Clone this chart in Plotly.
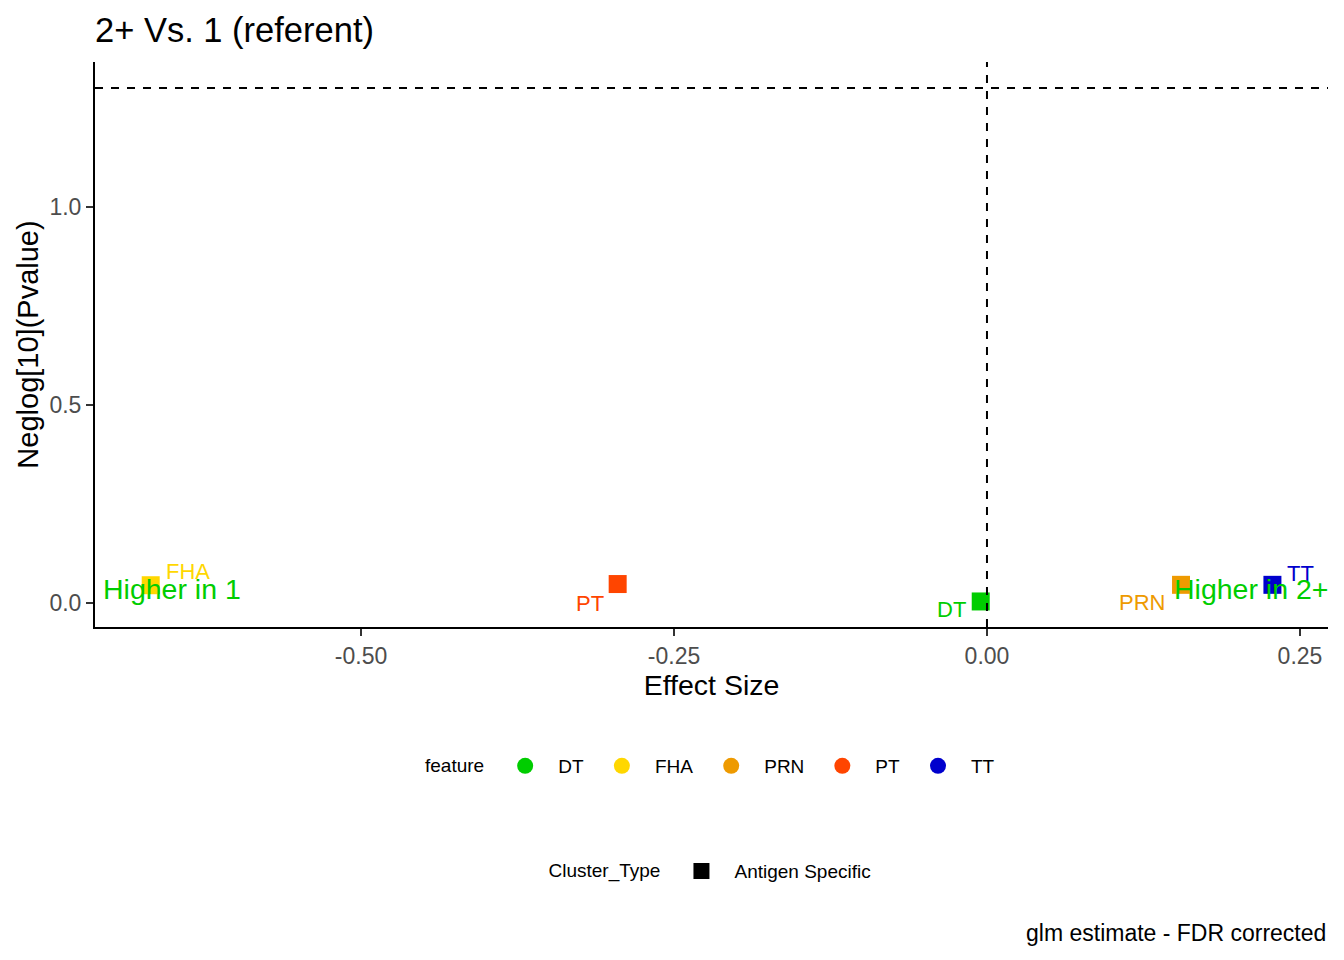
import plotly.graph_objects as go

# glm estimate per antigen feature (2+ vs 1)
features = ["DT", "FHA", "PRN", "PT", "TT"]
effect_size = [-0.005, -0.668, 0.155, -0.295, 0.228]
neglog_p = [0.004, 0.045, 0.046, 0.048, 0.046]
cluster_type = ["Antigen Specific"] * 5

feature_colors = {"DT": "#00CD00", "FHA": "#FFD700", "PRN": "#EE9A00",
                  "PT": "#FF4500", "TT": "#0000CD"}
# pixel nudges for repelled labels (x, y)
label_nudge = {"DT": (-29, -8), "FHA": (37, 14), "PRN": (-39, -18),
               "PT": (-28, -19), "TT": (28, 11)}

sig_line = 1.30103  # -log10(0.05)
x_range = [-0.7125, 0.2724]
y_range = [-0.0605, 1.3664]
x_ticks = [-0.50, -0.25, 0.00, 0.25]
x_ticktext = ["-0.50", "-0.25", "0.00", "0.25"]
y_ticks = [0.0, 0.5, 1.0]
y_ticktext = ["0.0", "0.5", "1.0"]

FONT = "Liberation Sans, Arial, sans-serif"

fig = go.Figure()

# the actual points (squares = Antigen Specific)
for f, x, y in zip(features, effect_size, neglog_p):
    fig.add_trace(go.Scatter(x=[x], y=[y], mode="markers",
                             marker=dict(symbol="square", size=18, color=feature_colors[f]),
                             showlegend=False, hoverinfo="text", text=[f]))

# legend entries: feature (circles)
for f in features:
    fig.add_trace(go.Scatter(x=[None], y=[None], mode="markers", name=f,
                             marker=dict(symbol="circle", size=17, color=feature_colors[f]),
                             legend="legend"))
# legend entries: Cluster_Type (square)
fig.add_trace(go.Scatter(x=[None], y=[None], mode="markers", name=cluster_type[0],
                         marker=dict(symbol="square", size=17, color="black"),
                         legend="legend2"))

# dashed reference lines
fig.add_hline(y=sig_line, line=dict(color="black", width=2, dash="8px,8px"))
fig.add_vline(x=0, line=dict(color="black", width=2, dash="8px,8px"))

# point labels
for f, x, y in zip(features, effect_size, neglog_p):
    dx, dy = label_nudge[f]
    fig.add_annotation(x=x, y=y, text=f, showarrow=False, xshift=dx, yshift=dy,
                       font=dict(family=FONT, size=22, color=feature_colors[f]))

# direction annotations
fig.add_annotation(x=-0.708, y=0.035, text="Higher in 1", showarrow=False,
                   xanchor="left", yanchor="middle",
                   font=dict(family=FONT, size=28.5, color="#00CD00"))
fig.add_annotation(xref="paper", x=1, y=0.035, text="Higher in 2+", showarrow=False,
                   xanchor="right", yanchor="middle", xshift=2,
                   font=dict(family=FONT, size=28.5, color="#00CD00"))

# caption
fig.add_annotation(xref="paper", yref="paper", x=1, y=-0.542, text="glm estimate - FDR corrected",
                   showarrow=False, xanchor="right", yanchor="middle",
                   font=dict(family=FONT, size=23, color="black"))

axis_common = dict(showgrid=False, zeroline=False, showline=True, linecolor="black", linewidth=2,
                   ticks="outside", ticklen=7, tickwidth=2, tickcolor="#333333",
                   tickfont=dict(family=FONT, size=23, color="#4D4D4D"))

# page body has an 8px margin, so the figure is 8px smaller and margins shifted
fig.update_layout(
    width=1336, height=952,
    margin=dict(l=87, r=16, t=54, b=333),
    paper_bgcolor="white", plot_bgcolor="white",
    font=dict(family=FONT, color="black"),
    title=dict(text="2+ Vs. 1 (referent)", x=0, xref="paper", xanchor="left",
               y=1 - 22 / 952, yref="container", yanchor="middle",
               font=dict(family=FONT, size=34.5, color="black")),
    xaxis=dict(range=x_range, tickvals=x_ticks, ticktext=x_ticktext,
               title=dict(text="Effect Size", font=dict(family=FONT, size=28.5), standoff=4),
               **axis_common),
    yaxis=dict(range=y_range, tickvals=y_ticks, ticktext=y_ticktext,
               title=dict(text="Neglog[10](Pvalue)", font=dict(family=FONT, size=29), standoff=2),
               **axis_common),
    legend=dict(orientation="h", x=0.5, xanchor="center", y=-0.246, yanchor="middle",
                title=dict(text="feature", font=dict(family=FONT, size=19)),
                font=dict(family=FONT, size=19, color="black"), itemsizing="trace",
                itemwidth=56),
    legend2=dict(orientation="h", x=0.5, xanchor="center", y=-0.432, yanchor="middle",
                 title=dict(text="Cluster_Type", font=dict(family=FONT, size=19)),
                 font=dict(family=FONT, size=19, color="black"), itemsizing="trace",
                 itemwidth=56),
)

fig.write_html("out.html")
